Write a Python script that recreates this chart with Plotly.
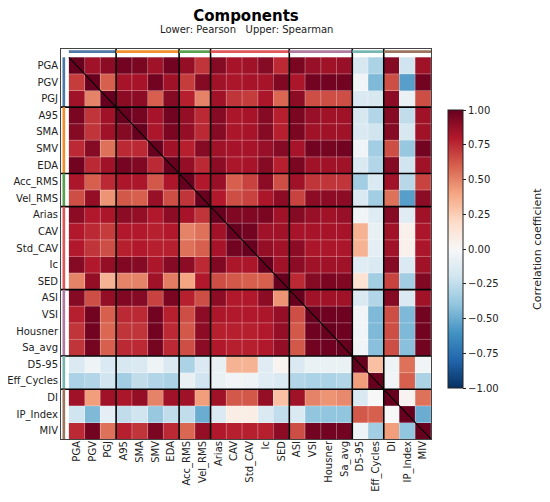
import numpy as np
import plotly.graph_objects as go

labels = ['PGA', 'PGV', 'PGJ', 'A95', 'SMA', 'SMV', 'EDA', 'Acc_RMS', 'Vel_RMS',
          'Arias', 'CAV', 'Std_CAV', 'Ic', 'SED', 'ASI', 'VSI', 'Housner', 'Sa_avg',
          'D5-95', 'Eff_Cycles', 'DI', 'IP_Index', 'MIV']

# group sizes along the axes, in label order
group_sizes = [3, 4, 2, 5, 4, 2, 3]
group_colors = ['#4e79a7', '#f28e2b', '#59a14f', '#e15759', '#b07aa1', '#76b7b2', '#9c755f']

# lower triangle (Pearson), row i holds columns 0..i-1
pearson_lower = [
    [],
    [0.70],
    [0.85, 0.50],
    [0.95, 0.72, 0.85],
    [0.92, 0.72, 0.85, 0.92],
    [0.75, 0.92, 0.55, 0.75, 0.75],
    [0.97, 0.75, 0.85, 0.96, 0.93, 0.75],
    [0.82, 0.60, 0.75, 0.82, 0.82, 0.62, 0.82],
    [0.65, 0.88, 0.45, 0.62, 0.60, 0.87, 0.65, 0.72],
    [0.90, 0.80, 0.82, 0.90, 0.88, 0.80, 0.90, 0.83, 0.72],
    [0.80, 0.75, 0.70, 0.80, 0.80, 0.78, 0.80, 0.50, 0.55, 0.85],
    [0.80, 0.72, 0.65, 0.78, 0.80, 0.78, 0.78, 0.55, 0.60, 0.83, 0.97],
    [0.92, 0.80, 0.88, 0.93, 0.92, 0.82, 0.92, 0.90, 0.75, 0.93, 0.82, 0.82],
    [0.50, 0.88, 0.35, 0.50, 0.50, 0.85, 0.52, 0.40, 0.80, 0.65, 0.62, 0.60, 0.60],
    [0.92, 0.65, 0.88, 0.93, 0.92, 0.68, 0.95, 0.78, 0.65, 0.90, 0.80, 0.80, 0.90, 0.45],
    [0.78, 0.97, 0.60, 0.75, 0.75, 0.97, 0.78, 0.65, 0.90, 0.82, 0.80, 0.80, 0.82, 0.88, 0.65],
    [0.72, 0.97, 0.58, 0.72, 0.72, 0.97, 0.75, 0.62, 0.90, 0.78, 0.78, 0.78, 0.80, 0.88, 0.62,
     0.98],
    [0.72, 0.96, 0.60, 0.75, 0.75, 0.96, 0.75, 0.65, 0.90, 0.80, 0.78, 0.78, 0.80, 0.88, 0.62,
     0.97, 0.98],
    [-0.15, -0.05, -0.15, -0.17, -0.15, -0.05, -0.15, -0.32, -0.15, -0.08, 0.35, 0.35, -0.12,
     0.03, -0.15, -0.07, -0.07, -0.07],
    [-0.32, -0.30, -0.20, -0.35, -0.25, -0.30, -0.32, -0.08, -0.20, -0.07, -0.03, -0.05, -0.12,
     -0.15, -0.30, -0.32, -0.32, -0.30, 0.42],
    [0.85, 0.42, 0.85, 0.82, 0.88, 0.50, 0.85, 0.85, 0.42, 0.85, 0.62, 0.62, 0.88, 0.30, 0.85,
     0.50, 0.45, 0.48, -0.15, 0.00],
    [-0.20, -0.45, -0.10, -0.25, -0.20, -0.38, -0.25, -0.25, -0.50, -0.15, 0.07, 0.07, -0.15,
     -0.25, -0.15, -0.40, -0.40, -0.40, 0.62, 0.60, 0.00],
    [0.75, 0.97, 0.55, 0.78, 0.72, 0.95, 0.75, 0.58, 0.88, 0.80, 0.78, 0.78, 0.78, 0.90, 0.65,
     0.97, 0.97, 0.97, -0.05, -0.35, 0.42, -0.40],
]

# upper triangle (Spearman), row i holds columns i+1..22
spearman_upper = [
    [0.85, 0.90, 0.97, 0.95, 0.85, 0.97, 0.88, 0.72, 0.92, 0.83, 0.85, 0.92, 0.75, 0.95, 0.87,
     0.85, 0.87, -0.17, -0.32, 0.92, -0.20, 0.85],
    [0.60, 0.83, 0.83, 0.97, 0.85, 0.70, 0.92, 0.85, 0.82, 0.83, 0.83, 0.93, 0.82, 0.97, 0.97,
     0.97, -0.03, -0.45, 0.65, -0.55, 0.97],
    [0.90, 0.90, 0.60, 0.92, 0.78, 0.50, 0.85, 0.72, 0.70, 0.82, 0.58, 0.90, 0.65, 0.65, 0.65,
     -0.15, -0.17, 0.90, -0.07, 0.65],
    [0.96, 0.83, 0.97, 0.88, 0.75, 0.92, 0.82, 0.83, 0.92, 0.78, 0.95, 0.87, 0.85, 0.85, -0.17,
     -0.30, 0.92, -0.25, 0.85],
    [0.82, 0.95, 0.88, 0.75, 0.92, 0.82, 0.83, 0.92, 0.78, 0.95, 0.85, 0.85, 0.85, -0.15, -0.20,
     0.92, -0.17, 0.85],
    [0.85, 0.78, 0.92, 0.85, 0.83, 0.83, 0.87, 0.92, 0.83, 0.97, 0.96, 0.97, -0.03, -0.35, 0.65,
     -0.38, 0.97],
    [0.88, 0.75, 0.90, 0.82, 0.83, 0.92, 0.78, 0.95, 0.85, 0.85, 0.85, -0.15, -0.30, 0.92, -0.20,
     0.85],
    [0.80, 0.87, 0.60, 0.68, 0.90, 0.65, 0.85, 0.72, 0.72, 0.72, -0.35, -0.15, 0.85, -0.28, 0.68],
    [0.80, 0.65, 0.68, 0.82, 0.90, 0.68, 0.90, 0.90, 0.90, -0.15, -0.35, 0.55, -0.55, 0.90],
    [0.93, 0.93, 0.95, 0.85, 0.92, 0.87, 0.85, 0.87, -0.03, -0.12, 0.92, -0.12, 0.85],
    [0.97, 0.85, 0.85, 0.83, 0.83, 0.83, 0.83, 0.35, -0.08, 0.85, 0.05, 0.82],
    [0.88, 0.85, 0.90, 0.82, 0.82, 0.82, 0.35, -0.10, 0.85, 0.05, 0.82],
    [0.85, 0.90, 0.85, 0.85, 0.85, -0.12, -0.15, 0.92, -0.15, 0.85],
    [0.75, 0.92, 0.95, 0.93, 0.15, -0.35, 0.68, -0.35, 0.93],
    [0.85, 0.85, 0.85, -0.15, -0.30, 0.92, -0.15, 0.85],
    [0.98, 0.98, -0.03, -0.45, 0.65, -0.45, 0.97],
    [0.98, -0.03, -0.45, 0.65, -0.45, 0.97],
    [-0.03, -0.42, 0.65, -0.42, 0.97],
    [0.30, -0.05, 0.55, -0.03],
    [-0.03, 0.60, -0.32],
    [0.03, 0.55],
    [-0.50],
    [],
]

n = len(labels)
corr = np.eye(n)
for i, row in enumerate(pearson_lower):
    corr[i, :i] = row
for i, row in enumerate(spearman_upper):
    corr[i, i + 1:] = row

# matplotlib RdBu_r
rdbu = ['#053061', '#2166ac', '#4393c3', '#92c5de', '#d1e5f0', '#f7f7f7',
        '#fddbc7', '#f4a582', '#d6604d', '#b2182b', '#67001f']
colorscale = [[k / 10, c] for k, c in enumerate(rdbu)]

lo, hi = -1.0, n - 0.5

fig = go.Figure(go.Heatmap(
    z=corr, x=list(range(n)), y=list(range(n)),
    zmin=-1, zmax=1, colorscale=colorscale,
    colorbar=dict(
        x=1.02, xanchor='left', y=0.487, yanchor='middle',
        len=0.765, thickness=15,
        tickvals=[-1, -0.75, -0.5, -0.25, 0, 0.25, 0.5, 0.75, 1],
        tickformat='.2f', ticks='outside', ticklen=3, tickcolor='#222',
        tickfont=dict(size=10, color='#222'),
        outlinewidth=1, outlinecolor='#222',
    ),
))

shapes = []
# faint cell grid
for k in range(n - 1):
    p = k + 0.5
    shapes.append(dict(type='line', x0=p, x1=p, y0=lo, y1=hi,
                       line=dict(color='rgba(255,255,255,0.4)', width=0.8)))
    shapes.append(dict(type='line', x0=lo, x1=hi, y0=p, y1=p,
                       line=dict(color='rgba(255,255,255,0.4)', width=0.8)))

# group colour bars and separators
start = 0
for size, color in zip(group_sizes, group_colors):
    a, b = start - 0.5, start + size - 0.5
    shapes.append(dict(type='line', x0=a, x1=b, y0=-0.84, y1=-0.84,
                       line=dict(color=color, width=2.7)))
    shapes.append(dict(type='line', x0=-0.82, x1=-0.82, y0=a, y1=b,
                       line=dict(color=color, width=2.7)))
    start += size
    if start < n:
        e = start - 0.5
        shapes.append(dict(type='line', x0=e, x1=e, y0=lo, y1=hi,
                           line=dict(color='black', width=1.6)))
        shapes.append(dict(type='line', x0=lo, x1=hi, y0=e, y1=e,
                           line=dict(color='black', width=1.6)))

# diagonal
shapes.append(dict(type='line', x0=-0.5, y0=-0.5, x1=n - 0.5, y1=n - 0.5,
                   line=dict(color='black', width=1.1)))

axis_common = dict(
    tickmode='array', tickvals=list(range(n)), ticktext=labels,
    showgrid=False, zeroline=False, ticks='', automargin=False,
    showline=True, mirror=True, linecolor='#444', linewidth=1,
    tickfont=dict(size=10, color='#222'),
)

# the page body adds ~8px on the left/top, so the figure is trimmed by that much
fig.update_layout(
    width=542, height=494,
    margin=dict(l=53, r=119, t=41, b=63),
    paper_bgcolor='white', plot_bgcolor='white',
    font=dict(family='DejaVu Sans', color='#222'),
    title=dict(text='<b>Components</b>', x=0.5, xref='paper', y=0.984, yanchor='middle',
               font=dict(size=15, color='black')),
    shapes=shapes,
    annotations=[
        dict(text='Lower: Pearson   Upper: Spearman', xref='paper', yref='paper',
             x=0.5, y=1.05, showarrow=False, yanchor='middle',
             font=dict(size=10, color='#222')),
        dict(text='Correlation coefficient', xref='paper', yref='paper',
             x=1.286, y=0.487, showarrow=False, textangle=-90,
             xanchor='center', yanchor='middle',
             font=dict(size=11, color='#222')),
    ],
)
fig.update_xaxes(range=[lo, hi], tickangle=-90, ticklabelstandoff=-3, **axis_common)
fig.update_yaxes(range=[hi, lo], **axis_common)

fig.write_html('out.html')
